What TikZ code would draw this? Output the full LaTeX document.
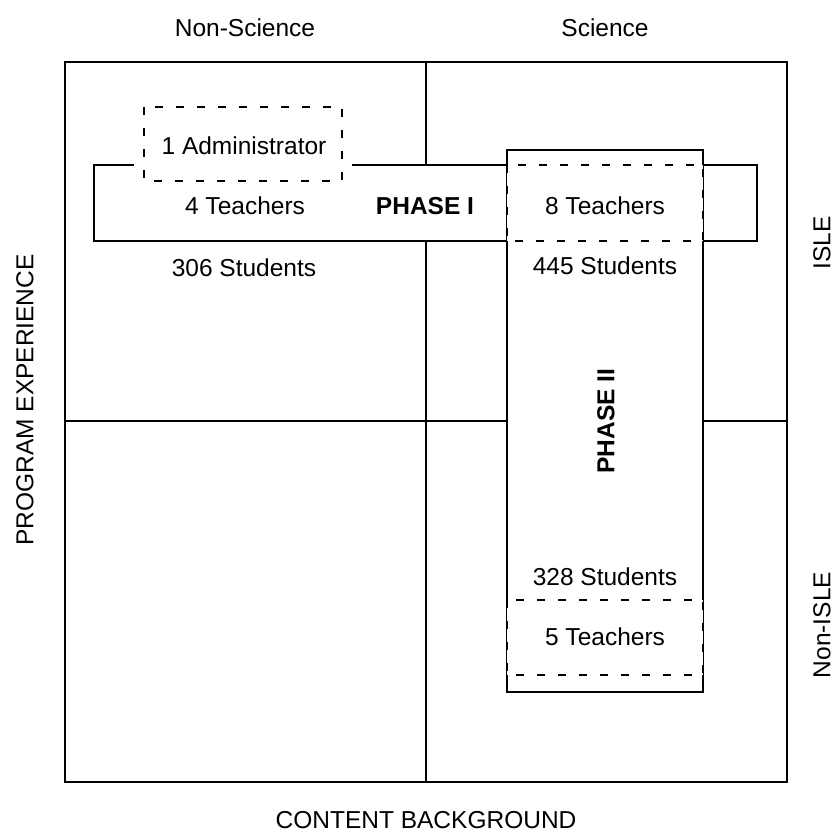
\documentclass[tikz,border=0pt]{standalone}
\usepackage{fontspec}
\setmainfont{Liberation Sans}
\usetikzlibrary{positioning}

\begin{document}
\begin{tikzpicture}[x=0.5pt, y=-0.5pt, line width=1pt,
    every node/.style={font=\fontsize{12.25}{14}\selectfont},
    phasebox/.style={draw, fill=white},
    groupbox/.style={draw, fill=white, dash pattern=on 4pt off 6.5pt},
    phaselabel/.style={font=\fontsize{12.25}{14}\selectfont\bfseries}]
    \useasboundingbox (0,0) rectangle (833,832);

    % Grid
    \draw (65,62) rectangle (787,782);
    \draw (426,62) -- (426,782);
    \draw (65,421) -- (787,421);

    % Phase I and Phase II
    \draw[phasebox] (94,165) rectangle (757,241);
    \draw[phasebox] (507,150) rectangle (703,692);

    % Groups
    \draw[groupbox] (507,165) rectangle (703,241);
    \draw[groupbox] (507,600) rectangle (703,675);
    \draw[groupbox, preaction={draw=white, solid, line width=10pt}] (144,107) rectangle (342,181);

    % Counts
    \node (admin) at (244,146) {1 Administrator};
    \node (teachA) at (245,206) {4 Teachers};
    \node (studA) at (244,268) {306 Students};
    \node[phaselabel] (phaseA) at (425,206) {PHASE I};
    \node (teachB) at (605,206) {8 Teachers};
    \node (studB) at (605,266) {445 Students};
    \node[phaselabel, rotate=90] (phaseB) at (606,421) {PHASE II};
    \node (studC) at (605,577) {328 Students};
    \node (teachC) at (605,637) {5 Teachers};

    % Axes
    \node (nonsci) at (245,28) {Non-Science};
    \node (sci) at (605,28) {Science};
    \node (content) at (426,820) {CONTENT BACKGROUND};
    \node[rotate=90] (program) at (25,400) {PROGRAM EXPERIENCE};
    \node[rotate=90] (isle) at (822,243) {ISLE};
    \node[rotate=90] (nonisle) at (822,625) {Non-ISLE};
\end{tikzpicture}
\end{document}
